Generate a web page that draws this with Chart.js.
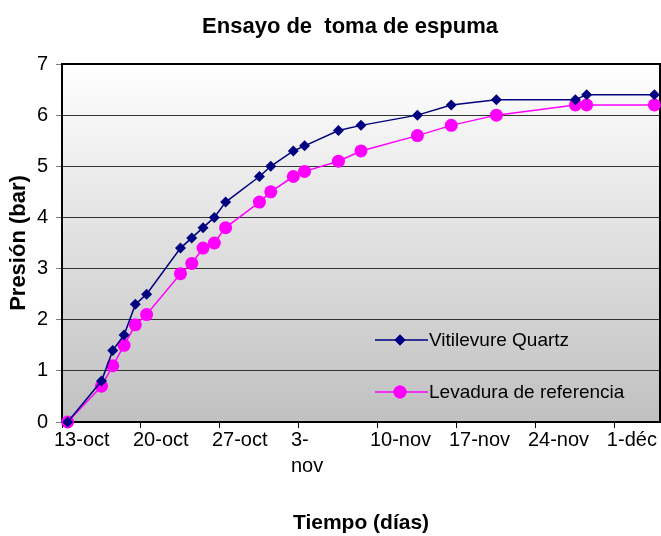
<!DOCTYPE html>
<html>
<head>
<meta charset="utf-8">
<script src="https://cdn.jsdelivr.net/npm/chart.js@4.4.0/dist/chart.umd.min.js"></script>
<style>
html,body{margin:0;padding:0;background:#fff}
</style>
</head>
<body>
<canvas id="grafico" width="661" height="536"></canvas>
<script>
// dias contados desde el 13-oct
const dias = [0,3,4,5,6,7,10,11,12,13,14,17,18,20,21,24,26,31,34,38,45,46,52]
const vitilevure = [0,0.8,1.4,1.7,2.3,2.5,3.4,3.6,3.8,4.0,4.3,4.8,5.0,5.3,5.4,5.7,5.8,6.0,6.2,6.3,6.3,6.4,6.4]
const referencia = [0,0.7,1.1,1.5,1.9,2.1,2.9,3.1,3.4,3.5,3.8,4.3,4.5,4.8,4.9,5.1,5.3,5.6,5.8,6.0,6.2,6.2,6.2]
const etiquetas = ['13-oct','20-oct','27-oct',['3-','nov'],'10-nov','17-nov','24-nov','1-déc']
const titulo = 'Ensayo de  toma de espuma'

const fuente = "'Liberation Sans', Arial, sans-serif"

let fondo = {
    id:'fondo',
    beforeDraw:(chart)=>{
        const {ctx, chartArea:a} = chart
        let g = ctx.createLinearGradient(0, a.top, 0, a.bottom)
        g.addColorStop(0,'#ffffff')
        g.addColorStop(1,'#c0c0c0')
        ctx.save()
        ctx.fillStyle = g
        ctx.fillRect(a.left, a.top, a.right-a.left, a.bottom-a.top)
        ctx.restore()
    }
}

let marco = {
    id:'marco',
    beforeDatasetsDraw:(chart)=>{
        const {ctx, chartArea:a} = chart
        ctx.save()
        ctx.strokeStyle = '#000'
        ctx.lineWidth = 2
        ctx.strokeRect(a.left, a.top, a.right-a.left, a.bottom-a.top)
        ctx.restore()
    }
}

let textos = {
    id:'textos',
    afterDraw:(chart)=>{
        const {ctx, chartArea:a} = chart
        ctx.save()
        ctx.fillStyle = '#000'
        ctx.font = 'bold 22px ' + fuente
        ctx.textAlign = 'center'
        ctx.textBaseline = 'middle'
        ctx.fillText(titulo, 350, 27)

        // leyenda dentro del area
        ctx.font = '19px ' + fuente
        ctx.textAlign = 'left'
        chart.data.datasets.forEach((ds, i)=>{
            let y = 340 + i*52
            let x0 = a.right - 285
            ctx.strokeStyle = ds.borderColor
            ctx.lineWidth = ds.borderWidth
            ctx.beginPath()
            ctx.moveTo(x0, y)
            ctx.lineTo(x0+53, y)
            ctx.stroke()
            ctx.fillStyle = ds.pointBackgroundColor
            Chart.helpers.drawPoint(ctx, {pointStyle: ds.pointStyle, radius: ds.pointRadius, rotation: 0}, x0+25, y)
            ctx.fill()
            ctx.fillStyle = '#000'
            ctx.fillText(ds.label, x0+54, y+1)
        })
        ctx.restore()
    }
}

const data = {
    datasets: [{
        label: 'Vitilevure Quartz',
        data: dias.map((d,i)=>({x:d, y:vitilevure[i]})),
        borderColor: '#000080',
        backgroundColor: '#000080',
        pointBackgroundColor: '#000080',
        pointBorderColor: '#000080',
        pointStyle: 'rectRot',
        pointRadius: 5.5,
        pointBorderWidth: 0,
        borderWidth: 1.5,
        clip: false
    },{
        label: 'Levadura de referencia',
        data: dias.map((d,i)=>({x:d, y:referencia[i]})),
        borderColor: '#ff00ff',
        backgroundColor: '#ff00ff',
        pointBackgroundColor: '#ff00ff',
        pointBorderColor: '#ff00ff',
        pointStyle: 'circle',
        pointRadius: 6.5,
        pointBorderWidth: 0,
        borderWidth: 1.5,
        clip: false
    }]
}

const config = {
    type: 'line',
    data,
    options: {
        responsive: false,
        animation: false,
        layout: { autoPadding: false, padding: {top: 64, right: 1, left: 0, bottom: 0} },
        plugins: {
            legend: { display: false },
            title: { display: false },
            tooltip: { enabled: false }
        },
        scales: {
            x: {
                type: 'linear',
                min: -0.5,
                max: 52.5,
                afterBuildTicks:(scale)=>{
                    scale.ticks = etiquetas.map((e,i)=>({value: i*7 - 0.5}))
                },
                afterFit:(scale)=>{
                    scale.height = 114
                    scale.paddingLeft = 0
                    scale.paddingRight = 0
                },
                grid: { drawOnChartArea: false, drawTicks: true, tickLength: 6, tickColor: '#000' },
                border: { display: false },
                ticks: {
                    autoSkip: false,
                    maxRotation: 0,
                    align: 'start',
                    labelOffset: -8,
                    padding: -1,
                    color: '#000',
                    font: { family: fuente, size: 20, lineHeight: 1.3 },
                    callback: (v, i)=>etiquetas[i]
                },
                title: {
                    display: true,
                    text: 'Tiempo (días)',
                    color: '#000',
                    font: { family: fuente, size: 21, weight: 'bold' },
                    padding: {top: 0, bottom: 0}
                }
            },
            y: {
                min: 0,
                max: 7,
                afterFit:(scale)=>{
                    scale.width = 62
                    scale.paddingTop = 0
                    scale.paddingBottom = 0
                },
                grid: { color: '#333', lineWidth: 1, drawTicks: true, tickLength: 6, tickColor: '#808080' },
                border: { display: false },
                ticks: {
                    stepSize: 1,
                    padding: 8,
                    color: '#000',
                    font: { family: fuente, size: 20 }
                },
                title: {
                    display: true,
                    text: 'Presión (bar)',
                    color: '#000',
                    font: { family: fuente, size: 22, weight: 'bold' },
                    padding: {top: 6, bottom: 0}
                }
            }
        }
    },
    plugins: [fondo, marco, textos]
}

const grafico = new Chart(document.getElementById('grafico'), config)
</script>
</body>
</html>
